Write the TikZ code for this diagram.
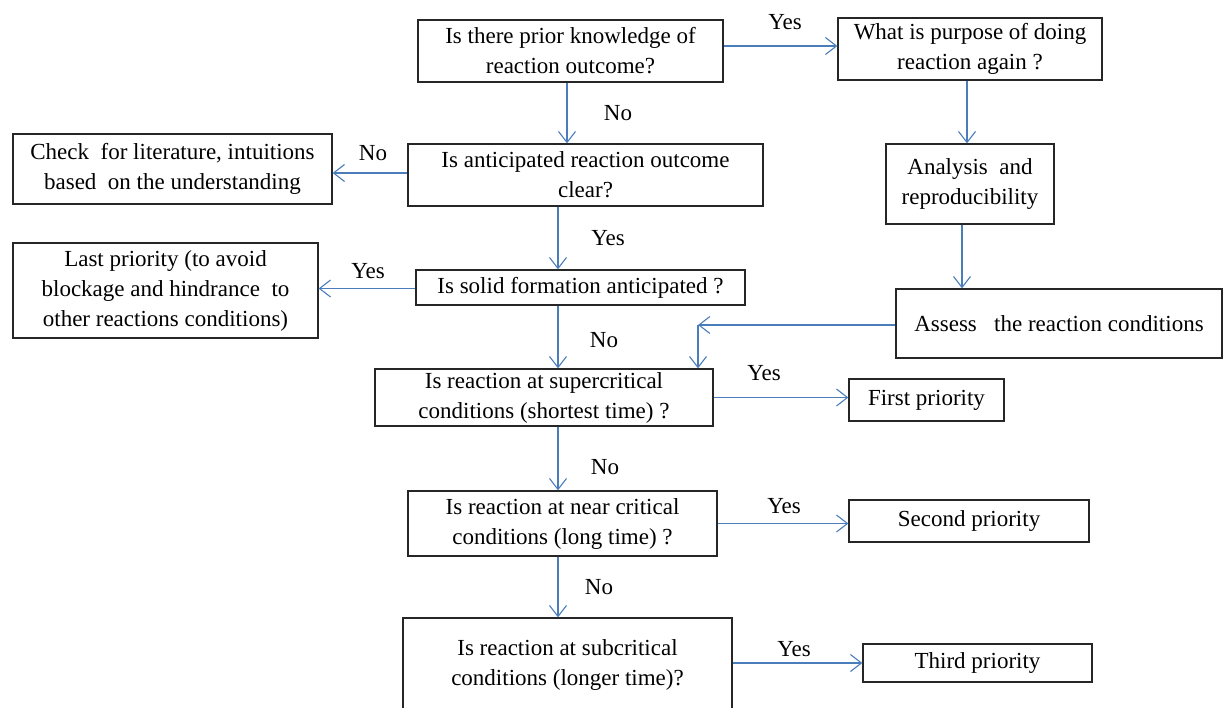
\documentclass[tikz,border=0pt]{standalone}
\usepackage{fontspec}
\setmainfont{Liberation Serif}
\usetikzlibrary{arrows.meta}
\definecolor{connblue}{HTML}{4A7EBB}
\definecolor{boxline}{HTML}{262626}
\tikzset{
  box/.style={draw=boxline, line width=1.3pt, fill=white, align=center,
    inner sep=0pt, font=\fontsize{23}{30}\selectfont},
  conn/.style={draw=connblue, line width=1.1pt,
    -{Straight Barb[length=11pt,width=17pt,line width=1.1pt]}},
  lbl/.style={font=\fontsize{23}{30}\selectfont, inner sep=0pt}
}
\begin{document}
\begin{tikzpicture}[x=1pt, y=-1pt]
\useasboundingbox (0,0) rectangle (1223,707);
\clip (0,0) rectangle (1223,707);

% decision chain
\node[box, minimum width=305pt, minimum height=62pt] (A) at (570.5,51)
  {Is there prior knowledge of\\reaction outcome?};
\node[box, minimum width=264pt, minimum height=62pt] (B) at (970,49)
  {What is purpose of doing\\reaction again ?};
\node[box, minimum width=355pt, minimum height=62pt] (C) at (585.5,175)
  {Is anticipated reaction outcome\\clear?};
\node[box, minimum width=319pt, minimum height=70pt] (D) at (172.5,169)
  {Check\ \ for literature, intuitions\\based\ \ on the understanding};
\node[box, minimum width=168pt, minimum height=80pt] (E) at (970,184)
  {Analysis\ \ and\\reproducibility};
\node[box, minimum width=329pt, minimum height=35pt] (F) at (580.5,287.5)
  {Is solid formation anticipated ?};
\node[box, minimum width=305pt, minimum height=95pt] (G) at (165.5,290.5)
  {Last priority (to avoid\\blockage and hindrance\ \ to\\other reactions conditions)};
\node[box, minimum width=326pt, minimum height=69pt] (H) at (1059,323.5)
  {Assess\ \ \ the reaction conditions};
\node[box, minimum width=338pt, minimum height=57pt] (I) at (544,397.5)
  {Is reaction at supercritical\\conditions (shortest time) ?};
\node[box, minimum width=155pt, minimum height=42pt] (J) at (926.5,400)
  {First priority};
\node[box, minimum width=309pt, minimum height=65pt] (K) at (562.5,523.5)
  {Is reaction at near critical\\conditions (long time) ?};
\node[box, minimum width=240pt, minimum height=42pt] (L) at (969,521)
  {Second priority};
\node[box, minimum width=329pt, minimum height=94pt] (M) at (567.5,665)
  {Is reaction at subcritical\\conditions (longer time)?};
\node[box, minimum width=229pt, minimum height=38pt] (N) at (977.5,663)
  {Third priority};

\coordinate (m) at (698,325);

% connectors
\draw[conn] ([yshift=5pt]A.east) -- ([yshift=5pt]A.east -| B.west);
\draw[conn] ([xshift=-3.5pt]A.south) -- ([xshift=-3.5pt]A.south |- C.north);
\draw[conn] ([yshift=2pt]C.west) -- ([yshift=2pt]C.west -| D.east);
\draw[conn] ([xshift=-27.5pt]C.south) -- ([xshift=-27.5pt]C.south |- F.north);
\draw[conn] ([yshift=-1pt]F.west) -- ([yshift=-1pt]F.west -| G.east);
\draw[conn] ([xshift=-22.5pt]F.south) -- ([xshift=-22.5pt]F.south |- I.north);
\draw[conn] ([xshift=-3pt]B.south) -- ([xshift=-3pt]B.south |- E.north);
\draw[conn] ([xshift=-8pt]E.south) -- ([xshift=-8pt]E.south |- H.north);
\draw[conn] (H.west |- m) -- (m);
\draw[conn] (m) -- (m |- I.north);
\draw[conn] (I.east) -- (I.east -| J.west);
\draw[conn] ([xshift=14pt]I.south) -- ([xshift=14pt]I.south |- K.north);
\draw[conn] (K.east) -- (K.east -| L.west);
\draw[conn] ([xshift=-4.5pt]K.south) -- ([xshift=-4.5pt]K.south |- M.north);
\draw[conn] ([yshift=2pt]M.east) -- ([yshift=2pt]M.east -| N.west);

% branch labels
\node[lbl] (yAB) at (785,22) {Yes};
\node[lbl] (nAC) at (618,113) {No};
\node[lbl] (nCD) at (373,153) {No};
\node[lbl] (yCF) at (608,238) {Yes};
\node[lbl] (yFG) at (368,271) {Yes};
\node[lbl] (nFI) at (604,340) {No};
\node[lbl] (yIJ) at (764,373) {Yes};
\node[lbl] (nIK) at (605,467) {No};
\node[lbl] (yKL) at (784,506) {Yes};
\node[lbl] (nKM) at (599,587) {No};
\node[lbl] (yMN) at (794,649) {Yes};
\end{tikzpicture}
\end{document}
